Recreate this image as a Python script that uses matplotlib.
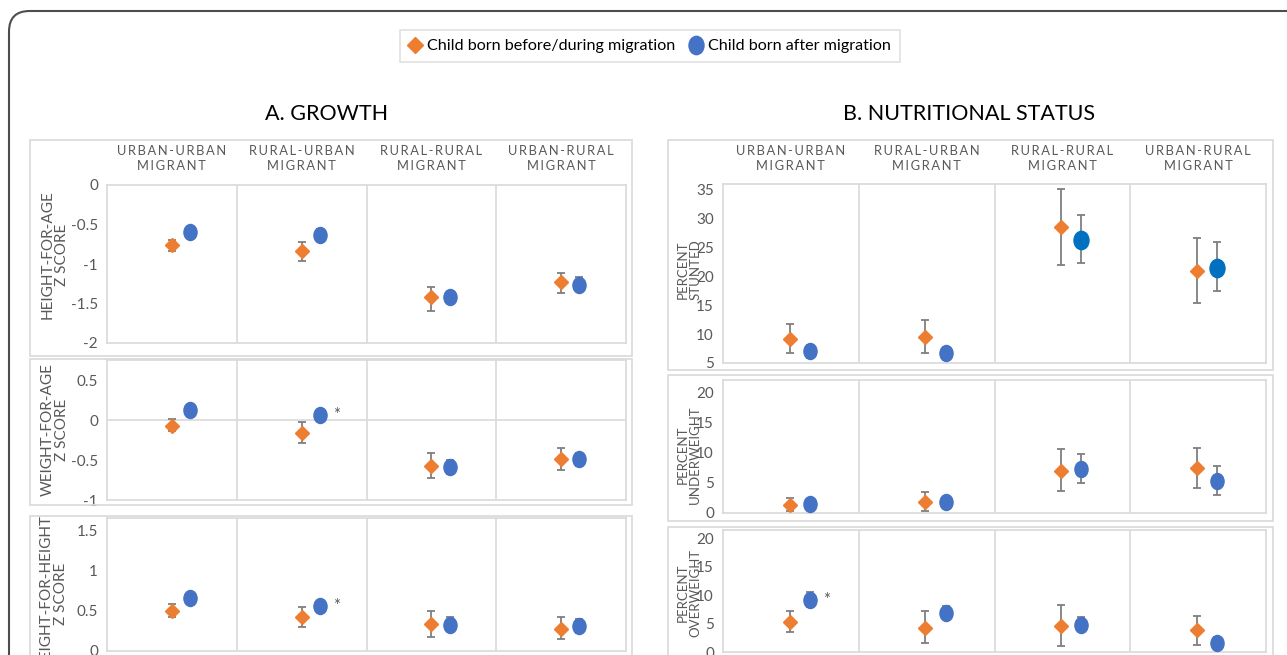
import numpy as np
import matplotlib
matplotlib.use("Agg")
import matplotlib.pyplot as plt
from matplotlib.lines import Line2D
from matplotlib.markers import MarkerStyle
from matplotlib.patches import FancyBboxPatch, Rectangle
from matplotlib.transforms import Affine2D

plt.rcParams['font.family'] = ['Lato', 'DejaVu Sans']

W, H = 1287, 655

groups = ["URBAN-URBAN", "RURAL-URBAN", "RURAL-RURAL", "URBAN-RURAL"]
series_names = ["Child born before/during migration", "Child born after migration"]

# A. growth (z scores): mean, lower, upper
haz_before = [-0.76, -0.83, -1.42, -1.23]
haz_before_lo = [-0.84, -0.96, -1.59, -1.37]
haz_before_hi = [-0.69, -0.72, -1.29, -1.11]
haz_after = [-0.59, -0.63, -1.42, -1.26]
haz_after_lo = [-0.63, -0.70, -1.48, -1.34]
haz_after_hi = [-0.55, -0.56, -1.36, -1.17]

waz_before = [-0.07, -0.16, -0.57, -0.49]
waz_before_lo = [-0.14, -0.29, -0.73, -0.63]
waz_before_hi = [0.01, -0.03, -0.41, -0.35]
waz_after = [0.12, 0.06, -0.59, -0.49]
waz_after_lo = [0.05, 0.02, -0.67, -0.57]
waz_after_hi = [0.19, 0.10, -0.50, -0.41]

whz_before = [0.50, 0.42, 0.34, 0.28]
whz_before_lo = [0.43, 0.30, 0.18, 0.15]
whz_before_hi = [0.59, 0.55, 0.50, 0.42]
whz_after = [0.66, 0.56, 0.33, 0.31]
whz_after_lo = [0.62, 0.52, 0.25, 0.23]
whz_after_hi = [0.70, 0.60, 0.42, 0.40]

# B. nutritional status (percent): mean, lower, upper
stunt_before = [9.2, 9.5, 28.5, 21.0]
stunt_before_lo = [6.8, 6.7, 22.0, 15.4]
stunt_before_hi = [11.7, 12.4, 35.2, 26.7]
stunt_after = [7.0, 6.8, 26.3, 21.5]
stunt_after_lo = [5.9, 5.5, 22.3, 17.5]
stunt_after_hi = [8.2, 7.8, 30.6, 25.9]

under_before = [1.4, 1.9, 7.0, 7.4]
under_before_lo = [0.3, 0.3, 3.6, 4.1]
under_before_hi = [2.5, 3.4, 10.6, 10.7]
under_after = [1.5, 1.9, 7.3, 5.3]
under_after_lo = [0.9, 1.3, 5.0, 2.9]
under_after_hi = [2.1, 2.5, 9.8, 7.7]

over_before = [5.3, 4.3, 4.6, 3.8]
over_before_lo = [3.5, 1.5, 1.0, 1.2]
over_before_hi = [7.2, 7.2, 8.3, 6.4]
over_after = [9.2, 6.9, 4.8, 1.6]
over_after_lo = [8.0, 5.8, 3.7, 0.6]
over_after_hi = [10.5, 8.1, 6.1, 2.7]

ORANGE = "#ED7D31"
BLUE = "#4472C4"
GRID = "#D9D9D9"
TXT = "#595959"
ERR = "#7F7F7F"

fig = plt.figure(figsize=(W / 100, H / 100), dpi=100)


def px_axes(x0, y0, x1, y1):
    return fig.add_axes([x0 / W, 1 - y1 / H, (x1 - x0) / W, (y1 - y0) / H])


def px_rect(x0, y0, x1, y1, **kw):
    fig.patches.append(Rectangle((x0 / W, 1 - y1 / H), (x1 - x0) / W, (y1 - y0) / H,
                                 transform=fig.transFigure, fill=False, **kw))


def spaced(s):
    return "\u2009".join(s)


oval = MarkerStyle("o", transform=Affine2D().scale(0.9, 1.1))


def panel(box, area, ylim, ticks, ylabel, lab_x, lab_y, before, after, blue_cols,
          offs=(0.5, 0.64), stars=(), zero_line=False, headers=False, blue_big=(),
          lab_size=11):
    px_rect(*box, edgecolor=GRID, lw=1.2)
    ax = px_axes(*area)
    ax.set_xlim(0, 4)
    ax.set_ylim(*ylim)
    ax.set_yticks(ticks)
    ax.set_yticklabels([f"{t:g}" for t in ticks])
    ax.set_xticks([])
    ax.tick_params(axis="y", length=0, pad=6.5, labelsize=11, labelcolor=TXT)
    for s in ax.spines.values():
        s.set_color(GRID)
        s.set_linewidth(1.2)
    for i in (1, 2, 3):
        ax.axvline(i, color=GRID, lw=1.2, zorder=0)
    if zero_line:
        ax.axhline(0, color=GRID, lw=1.2, zorder=0)
    xs = np.arange(4)
    m, lo, hi = map(np.array, before)
    ax.errorbar(xs + offs[0], m, yerr=[m - lo, hi - m], fmt="none", ecolor=ERR,
                elinewidth=1.3, capsize=3, capthick=1.3, zorder=2)
    ax.plot(xs + offs[0], m, ls="none", marker="D", ms=7.2, color=ORANGE, mec=ORANGE, zorder=3)
    m, lo, hi = map(np.array, after)
    ax.errorbar(xs + offs[1], m, yerr=[m - lo, hi - m], fmt="none", ecolor=ERR,
                elinewidth=1.3, capsize=3, capthick=1.3, zorder=2)
    for i in range(4):
        ax.plot(xs[i] + offs[1], m[i], ls="none", marker=oval,
                ms=12 if i in blue_big else 10.5, color=blue_cols[i], zorder=3)
    for i in stars:
        ax.annotate("*", (xs[i] + offs[1], m[i]), xytext=(12, 0), textcoords="offset points",
                    fontsize=12, color=TXT, ha="center", va="center")
    fig.text(lab_x / W, 1 - lab_y / H, ylabel, rotation=90, ha="center", va="center",
             fontsize=lab_size, color=TXT, linespacing=1.05)
    if headers:
        for i, g in enumerate(groups):
            cx = area[0] + (i + 0.5) * (area[2] - area[0]) / 4
            fig.text(cx / W, 1 - 151 / H, spaced(g), ha="center", va="center",
                     fontsize=9.3, color=TXT)
            fig.text(cx / W, 1 - 166 / H, spaced("MIGRANT"), ha="center", va="center",
                     fontsize=9.3, color=TXT)
    return ax


blues = [BLUE] * 4

# A. GROWTH
panel((30, 140, 632, 356), (107, 185, 626, 343), (-2, 0), [-2, -1.5, -1, -0.5, 0],
      "HEIGHT-FOR-AGE\nZ SCORE", 55, 255,
      (haz_before, haz_before_lo, haz_before_hi), (haz_after, haz_after_lo, haz_after_hi),
      blues, headers=True)
panel((30, 359, 632, 505), (107, 360, 626, 500), (-1, 0.75), [-1, -0.5, 0, 0.5],
      "WEIGHT-FOR-AGE\nZ SCORE", 55, 430,
      (waz_before, waz_before_lo, waz_before_hi), (waz_after, waz_after_lo, waz_after_hi),
      blues, stars=[1], zero_line=True)
panel((30, 516, 632, 670), (107, 518, 626, 651), (0, 1.66), [0, 0.5, 1, 1.5],
      "WEIGHT-FOR-HEIGHT\nZ SCORE", 54, 594,
      (whz_before, whz_before_lo, whz_before_hi), (whz_after, whz_after_lo, whz_after_hi),
      blues, stars=[1])

# B. NUTRITIONAL STATUS
panel((668, 140, 1273, 370), (723, 184, 1266, 363), (5, 36), [5, 10, 15, 20, 25, 30, 35],
      "PERCENT\nSTUNTED", 689, 270,
      (stunt_before, stunt_before_lo, stunt_before_hi), (stunt_after, stunt_after_lo, stunt_after_hi),
      [BLUE, BLUE, "#0070C0", "#0070C0"], offs=(0.49, 0.64), headers=True, blue_big=(2, 3),
      lab_size=9.5)
panel((668, 375, 1273, 521), (723, 380, 1266, 513), (0, 22), [0, 5, 10, 15, 20],
      "PERCENT\nUNDERWEIGHT", 689, 455,
      (under_before, under_before_lo, under_before_hi), (under_after, under_after_lo, under_after_hi),
      blues, offs=(0.49, 0.64), lab_size=9.5)
panel((668, 527, 1273, 670), (723, 530, 1266, 652), (0, 21.5), [0, 5, 10, 15, 20],
      "PERCENT\nOVERWEIGHT", 689, 593,
      (over_before, over_before_lo, over_before_hi), (over_after, over_after_lo, over_after_hi),
      blues, offs=(0.49, 0.64), stars=[0], lab_size=9.5)

fig.text(327 / W, 1 - 114 / H, "A. GROWTH", ha="center", va="center", fontsize=15.5)
fig.text(969 / W, 1 - 114 / H, "B. NUTRITIONAL STATUS", ha="center", va="center", fontsize=15.5)

handles = [
    Line2D([], [], ls="none", marker="D", ms=8.5, color=ORANGE),
    Line2D([], [], ls="none", marker=oval, ms=12, color=BLUE),
]
leg = fig.legend(handles, series_names, loc="center", bbox_to_anchor=(650 / W, 1 - 46 / H),
                 ncol=2, fontsize=11.6, frameon=True, fancybox=False, handlelength=0.8,
                 handletextpad=0.35, columnspacing=0.9, borderpad=0.55, borderaxespad=0)
leg.get_frame().set_edgecolor(GRID)
leg.get_frame().set_linewidth(1.2)

# outer rounded frame, running off the right and bottom edges
fig.patches.append(FancyBboxPatch((9 / W, -0.1), 1.1, 1 - 11 / H + 0.1,
                                  boxstyle="round,pad=0,rounding_size=0.016",
                                  transform=fig.transFigure, fill=False,
                                  edgecolor="#4D4D4D", lw=1.5, mutation_aspect=W / H))

fig.savefig("out.png", dpi=100)
